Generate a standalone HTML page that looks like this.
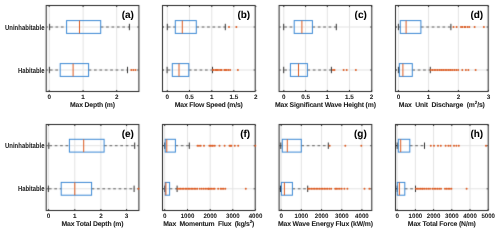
<!DOCTYPE html><html><head><meta charset="utf-8"><style>html,body{margin:0;padding:0;background:#fff;width:500px;height:233px;overflow:hidden}svg{display:block;will-change:transform}text{text-rendering:geometricPrecision;stroke-width:0.05px;font-family:"Liberation Sans",sans-serif;font-weight:bold;stroke:currentColor;white-space:pre}</style></head><body>
<svg width="500" height="233" viewBox="0 0 500 233"><defs><filter id="sf" x="0" y="0" width="500" height="233" filterUnits="userSpaceOnUse" color-interpolation-filters="sRGB"><feConvolveMatrix order="3" kernelMatrix="0.01 0.08 0.01 0.08 0.64 0.08 0.01 0.08 0.01" edgeMode="duplicate"/></filter></defs><rect width="500" height="233" fill="#fff"/><g filter="url(#sf)"><rect width="500" height="233" fill="#fff"/>
<g><line x1="49.2" y1="5.5" x2="49.2" y2="91.5" stroke="#e3e3e3"/><line x1="83.1" y1="5.5" x2="83.1" y2="91.5" stroke="#e3e3e3"/><line x1="116.7" y1="5.5" x2="116.7" y2="91.5" stroke="#e3e3e3"/><line x1="46.2" y1="27" x2="138.9" y2="27" stroke="#e3e3e3"/><line x1="46.2" y1="70" x2="138.9" y2="70" stroke="#e3e3e3"/><rect x="46.2" y="5.5" width="92.7" height="86" fill="none" stroke="#262626"/><line x1="49.2" y1="6.0" x2="49.2" y2="7.0" stroke="#262626"/><line x1="49.2" y1="91.0" x2="49.2" y2="90.0" stroke="#262626"/><line x1="83.1" y1="6.0" x2="83.1" y2="7.0" stroke="#262626"/><line x1="83.1" y1="91.0" x2="83.1" y2="90.0" stroke="#262626"/><line x1="116.7" y1="6.0" x2="116.7" y2="7.0" stroke="#262626"/><line x1="116.7" y1="91.0" x2="116.7" y2="90.0" stroke="#262626"/><line x1="46.7" y1="27" x2="47.7" y2="27" stroke="#262626"/><line x1="138.4" y1="27" x2="137.4" y2="27" stroke="#262626"/><line x1="46.7" y1="70" x2="47.7" y2="70" stroke="#262626"/><line x1="138.4" y1="70" x2="137.4" y2="70" stroke="#262626"/><line x1="50.1" y1="27" x2="66.6" y2="27" stroke="#606060" stroke-dasharray="2.7,2.7"/><line x1="100.7" y1="27" x2="129.4" y2="27" stroke="#606060" stroke-dasharray="2.7,2.7"/><line x1="49.6" y1="23.8" x2="49.6" y2="30.2" stroke="#333333"/><line x1="129.4" y1="23.8" x2="129.4" y2="30.2" stroke="#333333"/><rect x="66.6" y="20.6" width="34.1" height="12.8" fill="none" stroke="#3a88d4"/><line x1="79.5" y1="20.6" x2="79.5" y2="33.4" stroke="#dc5a20"/><line x1="49.9" y1="70" x2="60.2" y2="70" stroke="#606060" stroke-dasharray="2.7,2.7"/><line x1="88.6" y1="70" x2="127.5" y2="70" stroke="#606060" stroke-dasharray="2.7,2.7"/><line x1="49.4" y1="66.8" x2="49.4" y2="73.2" stroke="#333333"/><line x1="127.5" y1="66.8" x2="127.5" y2="73.2" stroke="#333333"/><rect x="60.2" y="63.6" width="28.4" height="12.8" fill="none" stroke="#3a88d4"/><line x1="73.1" y1="63.6" x2="73.1" y2="76.4" stroke="#dc5a20"/><circle cx="131.3" cy="70" r="1" fill="#dc5a20"/><circle cx="133.4" cy="70" r="1" fill="#dc5a20"/><circle cx="135.5" cy="70" r="1" fill="#dc5a20"/></g>
<g><line x1="167.3" y1="5.5" x2="167.3" y2="91.5" stroke="#e3e3e3"/><line x1="189.5" y1="5.5" x2="189.5" y2="91.5" stroke="#e3e3e3"/><line x1="211.8" y1="5.5" x2="211.8" y2="91.5" stroke="#e3e3e3"/><line x1="233.8" y1="5.5" x2="233.8" y2="91.5" stroke="#e3e3e3"/><line x1="162.5" y1="27" x2="255.2" y2="27" stroke="#e3e3e3"/><line x1="162.5" y1="70" x2="255.2" y2="70" stroke="#e3e3e3"/><rect x="162.5" y="5.5" width="92.7" height="86" fill="none" stroke="#262626"/><line x1="167.3" y1="6.0" x2="167.3" y2="7.0" stroke="#262626"/><line x1="167.3" y1="91.0" x2="167.3" y2="90.0" stroke="#262626"/><line x1="189.5" y1="6.0" x2="189.5" y2="7.0" stroke="#262626"/><line x1="189.5" y1="91.0" x2="189.5" y2="90.0" stroke="#262626"/><line x1="211.8" y1="6.0" x2="211.8" y2="7.0" stroke="#262626"/><line x1="211.8" y1="91.0" x2="211.8" y2="90.0" stroke="#262626"/><line x1="233.8" y1="6.0" x2="233.8" y2="7.0" stroke="#262626"/><line x1="233.8" y1="91.0" x2="233.8" y2="90.0" stroke="#262626"/><line x1="255.8" y1="6.0" x2="255.8" y2="7.0" stroke="#262626"/><line x1="255.8" y1="91.0" x2="255.8" y2="90.0" stroke="#262626"/><line x1="163" y1="27" x2="164" y2="27" stroke="#262626"/><line x1="254.7" y1="27" x2="253.7" y2="27" stroke="#262626"/><line x1="163" y1="70" x2="164" y2="70" stroke="#262626"/><line x1="254.7" y1="70" x2="253.7" y2="70" stroke="#262626"/><line x1="167.8" y1="27" x2="175.3" y2="27" stroke="#606060" stroke-dasharray="2.7,2.7"/><line x1="196.3" y1="27" x2="225.3" y2="27" stroke="#606060" stroke-dasharray="2.7,2.7"/><line x1="167.3" y1="23.8" x2="167.3" y2="30.2" stroke="#333333"/><line x1="225.3" y1="23.8" x2="225.3" y2="30.2" stroke="#333333"/><rect x="175.3" y="20.6" width="21" height="12.8" fill="none" stroke="#3a88d4"/><line x1="182.3" y1="20.6" x2="182.3" y2="33.4" stroke="#dc5a20"/><circle cx="229" cy="27" r="1" fill="#dc5a20"/><circle cx="236.4" cy="27" r="1" fill="#dc5a20"/><line x1="167.6" y1="70" x2="172.3" y2="70" stroke="#606060" stroke-dasharray="2.7,2.7"/><line x1="188.8" y1="70" x2="212.5" y2="70" stroke="#606060" stroke-dasharray="2.7,2.7"/><line x1="167.1" y1="66.8" x2="167.1" y2="73.2" stroke="#333333"/><line x1="212.5" y1="66.8" x2="212.5" y2="73.2" stroke="#333333"/><rect x="172.3" y="63.6" width="16.5" height="12.8" fill="none" stroke="#3a88d4"/><line x1="179" y1="63.6" x2="179" y2="76.4" stroke="#dc5a20"/><circle cx="212.8" cy="70" r="1" fill="#dc5a20"/><circle cx="213.8" cy="70" r="1" fill="#dc5a20"/><circle cx="215.5" cy="70" r="1" fill="#dc5a20"/><circle cx="216.5" cy="70" r="1" fill="#dc5a20"/><circle cx="217.5" cy="70" r="1" fill="#dc5a20"/><circle cx="219" cy="70" r="1" fill="#dc5a20"/><circle cx="220.8" cy="70" r="1" fill="#dc5a20"/><circle cx="221.6" cy="70" r="1" fill="#dc5a20"/><circle cx="224.3" cy="70" r="1" fill="#dc5a20"/><circle cx="225.3" cy="70" r="1" fill="#dc5a20"/><circle cx="226.7" cy="70" r="1" fill="#dc5a20"/><circle cx="228.4" cy="70" r="1" fill="#dc5a20"/><circle cx="230.1" cy="70" r="1" fill="#dc5a20"/><circle cx="237.9" cy="70" r="1" fill="#dc5a20"/></g>
<g><line x1="283.8" y1="5.5" x2="283.8" y2="91.5" stroke="#e3e3e3"/><line x1="305.6" y1="5.5" x2="305.6" y2="91.5" stroke="#e3e3e3"/><line x1="327.3" y1="5.5" x2="327.3" y2="91.5" stroke="#e3e3e3"/><line x1="349.5" y1="5.5" x2="349.5" y2="91.5" stroke="#e3e3e3"/><line x1="279.1" y1="27" x2="371.8" y2="27" stroke="#e3e3e3"/><line x1="279.1" y1="70" x2="371.8" y2="70" stroke="#e3e3e3"/><rect x="279.1" y="5.5" width="92.7" height="86" fill="none" stroke="#262626"/><line x1="283.8" y1="6.0" x2="283.8" y2="7.0" stroke="#262626"/><line x1="283.8" y1="91.0" x2="283.8" y2="90.0" stroke="#262626"/><line x1="305.6" y1="6.0" x2="305.6" y2="7.0" stroke="#262626"/><line x1="305.6" y1="91.0" x2="305.6" y2="90.0" stroke="#262626"/><line x1="327.3" y1="6.0" x2="327.3" y2="7.0" stroke="#262626"/><line x1="327.3" y1="91.0" x2="327.3" y2="90.0" stroke="#262626"/><line x1="349.5" y1="6.0" x2="349.5" y2="7.0" stroke="#262626"/><line x1="349.5" y1="91.0" x2="349.5" y2="90.0" stroke="#262626"/><line x1="371.6" y1="6.0" x2="371.6" y2="7.0" stroke="#262626"/><line x1="371.6" y1="91.0" x2="371.6" y2="90.0" stroke="#262626"/><line x1="279.6" y1="27" x2="280.6" y2="27" stroke="#262626"/><line x1="371.3" y1="27" x2="370.3" y2="27" stroke="#262626"/><line x1="279.6" y1="70" x2="280.6" y2="70" stroke="#262626"/><line x1="371.3" y1="70" x2="370.3" y2="70" stroke="#262626"/><line x1="284.2" y1="27" x2="294.2" y2="27" stroke="#606060" stroke-dasharray="2.7,2.7"/><line x1="312.4" y1="27" x2="336.3" y2="27" stroke="#606060" stroke-dasharray="2.7,2.7"/><line x1="283.7" y1="23.8" x2="283.7" y2="30.2" stroke="#333333"/><line x1="336.3" y1="23.8" x2="336.3" y2="30.2" stroke="#333333"/><rect x="294.2" y="20.6" width="18.2" height="12.8" fill="none" stroke="#3a88d4"/><line x1="301.9" y1="20.6" x2="301.9" y2="33.4" stroke="#dc5a20"/><line x1="284.2" y1="70" x2="290.4" y2="70" stroke="#606060" stroke-dasharray="2.7,2.7"/><line x1="307.4" y1="70" x2="331.4" y2="70" stroke="#606060" stroke-dasharray="2.7,2.7"/><line x1="283.7" y1="66.8" x2="283.7" y2="73.2" stroke="#333333"/><line x1="331.4" y1="66.8" x2="331.4" y2="73.2" stroke="#333333"/><rect x="290.4" y="63.6" width="17" height="12.8" fill="none" stroke="#3a88d4"/><line x1="298.5" y1="63.6" x2="298.5" y2="76.4" stroke="#dc5a20"/><circle cx="333" cy="70" r="1" fill="#dc5a20"/><circle cx="334.5" cy="70" r="1" fill="#dc5a20"/><circle cx="343.6" cy="70" r="1" fill="#dc5a20"/><circle cx="346.7" cy="70" r="1" fill="#dc5a20"/><circle cx="355.9" cy="70" r="1" fill="#dc5a20"/></g>
<g><line x1="398.4" y1="5.5" x2="398.4" y2="91.5" stroke="#e3e3e3"/><line x1="428.6" y1="5.5" x2="428.6" y2="91.5" stroke="#e3e3e3"/><line x1="458.4" y1="5.5" x2="458.4" y2="91.5" stroke="#e3e3e3"/><line x1="395.5" y1="27" x2="488.2" y2="27" stroke="#e3e3e3"/><line x1="395.5" y1="70" x2="488.2" y2="70" stroke="#e3e3e3"/><rect x="395.5" y="5.5" width="92.7" height="86" fill="none" stroke="#262626"/><line x1="398.4" y1="6.0" x2="398.4" y2="7.0" stroke="#262626"/><line x1="398.4" y1="91.0" x2="398.4" y2="90.0" stroke="#262626"/><line x1="428.6" y1="6.0" x2="428.6" y2="7.0" stroke="#262626"/><line x1="428.6" y1="91.0" x2="428.6" y2="90.0" stroke="#262626"/><line x1="458.4" y1="6.0" x2="458.4" y2="7.0" stroke="#262626"/><line x1="458.4" y1="91.0" x2="458.4" y2="90.0" stroke="#262626"/><line x1="488.4" y1="6.0" x2="488.4" y2="7.0" stroke="#262626"/><line x1="488.4" y1="91.0" x2="488.4" y2="90.0" stroke="#262626"/><line x1="396" y1="27" x2="397" y2="27" stroke="#262626"/><line x1="487.7" y1="27" x2="486.7" y2="27" stroke="#262626"/><line x1="396" y1="70" x2="397" y2="70" stroke="#262626"/><line x1="487.7" y1="70" x2="486.7" y2="70" stroke="#262626"/><line x1="398.9" y1="27" x2="400.3" y2="27" stroke="#606060" stroke-dasharray="2.7,2.7"/><line x1="420.9" y1="27" x2="450.9" y2="27" stroke="#606060" stroke-dasharray="2.7,2.7"/><line x1="398.4" y1="23.8" x2="398.4" y2="30.2" stroke="#333333"/><line x1="450.9" y1="23.8" x2="450.9" y2="30.2" stroke="#333333"/><rect x="400.3" y="20.6" width="20.6" height="12.8" fill="none" stroke="#3a88d4"/><line x1="406.1" y1="20.6" x2="406.1" y2="33.4" stroke="#dc5a20"/><circle cx="453.5" cy="27" r="1" fill="#dc5a20"/><circle cx="456.6" cy="27" r="1" fill="#dc5a20"/><circle cx="461" cy="27" r="1" fill="#dc5a20"/><circle cx="462.3" cy="27" r="1" fill="#dc5a20"/><circle cx="464.5" cy="27" r="1" fill="#dc5a20"/><circle cx="465.4" cy="27" r="1" fill="#dc5a20"/><circle cx="467.6" cy="27" r="1" fill="#dc5a20"/><circle cx="469.3" cy="27" r="1" fill="#dc5a20"/><circle cx="474.6" cy="27" r="1" fill="#dc5a20"/><circle cx="483.9" cy="27" r="1" fill="#dc5a20"/><line x1="398.9" y1="70" x2="399.4" y2="70" stroke="#606060" stroke-dasharray="2.7,2.7"/><line x1="412.3" y1="70" x2="430.3" y2="70" stroke="#606060" stroke-dasharray="2.7,2.7"/><line x1="398.4" y1="66.8" x2="398.4" y2="73.2" stroke="#333333"/><line x1="430.3" y1="66.8" x2="430.3" y2="73.2" stroke="#333333"/><rect x="399.4" y="63.6" width="12.9" height="12.8" fill="none" stroke="#3a88d4"/><line x1="402.9" y1="63.6" x2="402.9" y2="76.4" stroke="#dc5a20"/><circle cx="430.8" cy="70" r="1" fill="#dc5a20"/><circle cx="432.5" cy="70" r="1" fill="#dc5a20"/><circle cx="434.2" cy="70" r="1" fill="#dc5a20"/><circle cx="435.9" cy="70" r="1" fill="#dc5a20"/><circle cx="437.6" cy="70" r="1" fill="#dc5a20"/><circle cx="439.3" cy="70" r="1" fill="#dc5a20"/><circle cx="441" cy="70" r="1" fill="#dc5a20"/><circle cx="442" cy="70" r="1" fill="#dc5a20"/><circle cx="443.6" cy="70" r="1" fill="#dc5a20"/><circle cx="445.2" cy="70" r="1" fill="#dc5a20"/><circle cx="446.8" cy="70" r="1" fill="#dc5a20"/><circle cx="448.4" cy="70" r="1" fill="#dc5a20"/><circle cx="450" cy="70" r="1" fill="#dc5a20"/><circle cx="451" cy="70" r="1" fill="#dc5a20"/><circle cx="452.8" cy="70" r="1" fill="#dc5a20"/><circle cx="454.6" cy="70" r="1" fill="#dc5a20"/><circle cx="456.4" cy="70" r="1" fill="#dc5a20"/><circle cx="458.2" cy="70" r="1" fill="#dc5a20"/><circle cx="462.3" cy="70" r="1" fill="#dc5a20"/><circle cx="465.9" cy="70" r="1" fill="#dc5a20"/><circle cx="468.4" cy="70" r="1" fill="#dc5a20"/><circle cx="475.6" cy="70" r="1" fill="#dc5a20"/></g>
<g><line x1="48.6" y1="124.5" x2="48.6" y2="210.5" stroke="#e3e3e3"/><line x1="74.8" y1="124.5" x2="74.8" y2="210.5" stroke="#e3e3e3"/><line x1="100.9" y1="124.5" x2="100.9" y2="210.5" stroke="#e3e3e3"/><line x1="126.6" y1="124.5" x2="126.6" y2="210.5" stroke="#e3e3e3"/><line x1="46.2" y1="145.7" x2="138.9" y2="145.7" stroke="#e3e3e3"/><line x1="46.2" y1="188.8" x2="138.9" y2="188.8" stroke="#e3e3e3"/><rect x="46.2" y="124.5" width="92.7" height="86" fill="none" stroke="#262626"/><line x1="48.6" y1="125.0" x2="48.6" y2="126.0" stroke="#262626"/><line x1="48.6" y1="210.0" x2="48.6" y2="209.0" stroke="#262626"/><line x1="74.8" y1="125.0" x2="74.8" y2="126.0" stroke="#262626"/><line x1="74.8" y1="210.0" x2="74.8" y2="209.0" stroke="#262626"/><line x1="100.9" y1="125.0" x2="100.9" y2="126.0" stroke="#262626"/><line x1="100.9" y1="210.0" x2="100.9" y2="209.0" stroke="#262626"/><line x1="126.6" y1="125.0" x2="126.6" y2="126.0" stroke="#262626"/><line x1="126.6" y1="210.0" x2="126.6" y2="209.0" stroke="#262626"/><line x1="46.7" y1="145.7" x2="47.7" y2="145.7" stroke="#262626"/><line x1="138.4" y1="145.7" x2="137.4" y2="145.7" stroke="#262626"/><line x1="46.7" y1="188.8" x2="47.7" y2="188.8" stroke="#262626"/><line x1="138.4" y1="188.8" x2="137.4" y2="188.8" stroke="#262626"/><line x1="49.3" y1="145.7" x2="69.4" y2="145.7" stroke="#606060" stroke-dasharray="2.7,2.7"/><line x1="104.1" y1="145.7" x2="134.7" y2="145.7" stroke="#606060" stroke-dasharray="2.7,2.7"/><line x1="48.8" y1="142.5" x2="48.8" y2="148.9" stroke="#333333"/><line x1="134.7" y1="142.5" x2="134.7" y2="148.9" stroke="#333333"/><rect x="69.4" y="139.3" width="34.7" height="12.8" fill="none" stroke="#3a88d4"/><line x1="83.7" y1="139.3" x2="83.7" y2="152.1" stroke="#dc5a20"/><line x1="48.9" y1="188.8" x2="61.2" y2="188.8" stroke="#606060" stroke-dasharray="2.7,2.7"/><line x1="91.6" y1="188.8" x2="134.1" y2="188.8" stroke="#606060" stroke-dasharray="2.7,2.7"/><line x1="48.4" y1="185.6" x2="48.4" y2="192" stroke="#333333"/><line x1="134.1" y1="185.6" x2="134.1" y2="192" stroke="#333333"/><rect x="61.2" y="182.4" width="30.4" height="12.8" fill="none" stroke="#3a88d4"/><line x1="74.8" y1="182.4" x2="74.8" y2="195.2" stroke="#dc5a20"/><circle cx="138.5" cy="188.8" r="1" fill="#dc5a20"/></g>
<g><line x1="164.7" y1="124.5" x2="164.7" y2="210.5" stroke="#e3e3e3"/><line x1="187.5" y1="124.5" x2="187.5" y2="210.5" stroke="#e3e3e3"/><line x1="210.2" y1="124.5" x2="210.2" y2="210.5" stroke="#e3e3e3"/><line x1="232.8" y1="124.5" x2="232.8" y2="210.5" stroke="#e3e3e3"/><line x1="162.5" y1="145.7" x2="255.2" y2="145.7" stroke="#e3e3e3"/><line x1="162.5" y1="188.8" x2="255.2" y2="188.8" stroke="#e3e3e3"/><rect x="162.5" y="124.5" width="92.7" height="86" fill="none" stroke="#262626"/><line x1="164.7" y1="125.0" x2="164.7" y2="126.0" stroke="#262626"/><line x1="164.7" y1="210.0" x2="164.7" y2="209.0" stroke="#262626"/><line x1="187.5" y1="125.0" x2="187.5" y2="126.0" stroke="#262626"/><line x1="187.5" y1="210.0" x2="187.5" y2="209.0" stroke="#262626"/><line x1="210.2" y1="125.0" x2="210.2" y2="126.0" stroke="#262626"/><line x1="210.2" y1="210.0" x2="210.2" y2="209.0" stroke="#262626"/><line x1="232.8" y1="125.0" x2="232.8" y2="126.0" stroke="#262626"/><line x1="232.8" y1="210.0" x2="232.8" y2="209.0" stroke="#262626"/><line x1="255.5" y1="125.0" x2="255.5" y2="126.0" stroke="#262626"/><line x1="255.5" y1="210.0" x2="255.5" y2="209.0" stroke="#262626"/><line x1="163" y1="145.7" x2="164" y2="145.7" stroke="#262626"/><line x1="254.7" y1="145.7" x2="253.7" y2="145.7" stroke="#262626"/><line x1="163" y1="188.8" x2="164" y2="188.8" stroke="#262626"/><line x1="254.7" y1="188.8" x2="253.7" y2="188.8" stroke="#262626"/><line x1="165.2" y1="145.7" x2="165.2" y2="145.7" stroke="#606060" stroke-dasharray="2.7,2.7"/><line x1="175.4" y1="145.7" x2="189.3" y2="145.7" stroke="#606060" stroke-dasharray="2.7,2.7"/><line x1="164.7" y1="142.5" x2="164.7" y2="148.9" stroke="#333333"/><line x1="189.3" y1="142.5" x2="189.3" y2="148.9" stroke="#333333"/><rect x="165.2" y="139.3" width="10.2" height="12.8" fill="none" stroke="#3a88d4"/><line x1="166.8" y1="139.3" x2="166.8" y2="152.1" stroke="#dc5a20"/><circle cx="197.5" cy="145.7" r="1" fill="#dc5a20"/><circle cx="199" cy="145.7" r="1" fill="#dc5a20"/><circle cx="200.7" cy="145.7" r="1" fill="#dc5a20"/><circle cx="204" cy="145.7" r="1" fill="#dc5a20"/><circle cx="209.4" cy="145.7" r="1" fill="#dc5a20"/><circle cx="210.6" cy="145.7" r="1" fill="#dc5a20"/><circle cx="212" cy="145.7" r="1" fill="#dc5a20"/><circle cx="213" cy="145.7" r="1" fill="#dc5a20"/><circle cx="214.8" cy="145.7" r="1" fill="#dc5a20"/><circle cx="219.5" cy="145.7" r="1" fill="#dc5a20"/><circle cx="224.6" cy="145.7" r="1" fill="#dc5a20"/><circle cx="229.5" cy="145.7" r="1" fill="#dc5a20"/><circle cx="230.5" cy="145.7" r="1" fill="#dc5a20"/><circle cx="231.4" cy="145.7" r="1" fill="#dc5a20"/><circle cx="234.8" cy="145.7" r="1" fill="#dc5a20"/><circle cx="238.2" cy="145.7" r="1" fill="#dc5a20"/><circle cx="255.3" cy="145.7" r="1" fill="#dc5a20"/><line x1="165.2" y1="188.8" x2="165.2" y2="188.8" stroke="#606060" stroke-dasharray="2.7,2.7"/><line x1="169.6" y1="188.8" x2="177.1" y2="188.8" stroke="#606060" stroke-dasharray="2.7,2.7"/><line x1="164.7" y1="185.6" x2="164.7" y2="192" stroke="#333333"/><line x1="177.1" y1="185.6" x2="177.1" y2="192" stroke="#333333"/><rect x="165.2" y="182.4" width="4.4" height="12.8" fill="none" stroke="#3a88d4"/><line x1="165.9" y1="182.4" x2="165.9" y2="195.2" stroke="#dc5a20"/><circle cx="177.6" cy="188.8" r="1" fill="#dc5a20"/><circle cx="179.1" cy="188.8" r="1" fill="#dc5a20"/><circle cx="180.6" cy="188.8" r="1" fill="#dc5a20"/><circle cx="182.1" cy="188.8" r="1" fill="#dc5a20"/><circle cx="183.6" cy="188.8" r="1" fill="#dc5a20"/><circle cx="185.3" cy="188.8" r="1" fill="#dc5a20"/><circle cx="186.8" cy="188.8" r="1" fill="#dc5a20"/><circle cx="188.3" cy="188.8" r="1" fill="#dc5a20"/><circle cx="189.8" cy="188.8" r="1" fill="#dc5a20"/><circle cx="191.3" cy="188.8" r="1" fill="#dc5a20"/><circle cx="192.8" cy="188.8" r="1" fill="#dc5a20"/><circle cx="194.3" cy="188.8" r="1" fill="#dc5a20"/><circle cx="195.8" cy="188.8" r="1" fill="#dc5a20"/><circle cx="197.3" cy="188.8" r="1" fill="#dc5a20"/><circle cx="199.8" cy="188.8" r="1" fill="#dc5a20"/><circle cx="201.6" cy="188.8" r="1" fill="#dc5a20"/><circle cx="203.4" cy="188.8" r="1" fill="#dc5a20"/><circle cx="205.2" cy="188.8" r="1" fill="#dc5a20"/><circle cx="207" cy="188.8" r="1" fill="#dc5a20"/><circle cx="208.8" cy="188.8" r="1" fill="#dc5a20"/><circle cx="208.6" cy="188.8" r="1" fill="#dc5a20"/><circle cx="210.1" cy="188.8" r="1" fill="#dc5a20"/><circle cx="211.6" cy="188.8" r="1" fill="#dc5a20"/><circle cx="213.1" cy="188.8" r="1" fill="#dc5a20"/><circle cx="214.6" cy="188.8" r="1" fill="#dc5a20"/><circle cx="218.1" cy="188.8" r="1" fill="#dc5a20"/><circle cx="220.6" cy="188.8" r="1" fill="#dc5a20"/><circle cx="222" cy="188.8" r="1" fill="#dc5a20"/><circle cx="223.5" cy="188.8" r="1" fill="#dc5a20"/><circle cx="225.3" cy="188.8" r="1" fill="#dc5a20"/><circle cx="245.8" cy="188.8" r="1" fill="#dc5a20"/></g>
<g><line x1="281.2" y1="124.5" x2="281.2" y2="210.5" stroke="#e3e3e3"/><line x1="301.3" y1="124.5" x2="301.3" y2="210.5" stroke="#e3e3e3"/><line x1="321.6" y1="124.5" x2="321.6" y2="210.5" stroke="#e3e3e3"/><line x1="341.8" y1="124.5" x2="341.8" y2="210.5" stroke="#e3e3e3"/><line x1="361.9" y1="124.5" x2="361.9" y2="210.5" stroke="#e3e3e3"/><line x1="279.1" y1="145.7" x2="371.8" y2="145.7" stroke="#e3e3e3"/><line x1="279.1" y1="188.8" x2="371.8" y2="188.8" stroke="#e3e3e3"/><rect x="279.1" y="124.5" width="92.7" height="86" fill="none" stroke="#262626"/><line x1="281.2" y1="125.0" x2="281.2" y2="126.0" stroke="#262626"/><line x1="281.2" y1="210.0" x2="281.2" y2="209.0" stroke="#262626"/><line x1="301.3" y1="125.0" x2="301.3" y2="126.0" stroke="#262626"/><line x1="301.3" y1="210.0" x2="301.3" y2="209.0" stroke="#262626"/><line x1="321.6" y1="125.0" x2="321.6" y2="126.0" stroke="#262626"/><line x1="321.6" y1="210.0" x2="321.6" y2="209.0" stroke="#262626"/><line x1="341.8" y1="125.0" x2="341.8" y2="126.0" stroke="#262626"/><line x1="341.8" y1="210.0" x2="341.8" y2="209.0" stroke="#262626"/><line x1="361.9" y1="125.0" x2="361.9" y2="126.0" stroke="#262626"/><line x1="361.9" y1="210.0" x2="361.9" y2="209.0" stroke="#262626"/><line x1="279.6" y1="145.7" x2="280.6" y2="145.7" stroke="#262626"/><line x1="371.3" y1="145.7" x2="370.3" y2="145.7" stroke="#262626"/><line x1="279.6" y1="188.8" x2="280.6" y2="188.8" stroke="#262626"/><line x1="371.3" y1="188.8" x2="370.3" y2="188.8" stroke="#262626"/><line x1="281.3" y1="145.7" x2="282.3" y2="145.7" stroke="#606060" stroke-dasharray="2.7,2.7"/><line x1="301.3" y1="145.7" x2="328.3" y2="145.7" stroke="#606060" stroke-dasharray="2.7,2.7"/><line x1="280.8" y1="142.5" x2="280.8" y2="148.9" stroke="#333333"/><line x1="328.3" y1="142.5" x2="328.3" y2="148.9" stroke="#333333"/><rect x="282.3" y="139.3" width="19" height="12.8" fill="none" stroke="#3a88d4"/><line x1="287.3" y1="139.3" x2="287.3" y2="152.1" stroke="#dc5a20"/><circle cx="329.7" cy="145.7" r="1" fill="#dc5a20"/><circle cx="345.3" cy="145.7" r="1" fill="#dc5a20"/><circle cx="361.3" cy="145.7" r="1" fill="#dc5a20"/><line x1="281" y1="188.8" x2="281.4" y2="188.8" stroke="#606060" stroke-dasharray="2.7,2.7"/><line x1="292.4" y1="188.8" x2="307.7" y2="188.8" stroke="#606060" stroke-dasharray="2.7,2.7"/><line x1="280.5" y1="185.6" x2="280.5" y2="192" stroke="#333333"/><line x1="307.7" y1="185.6" x2="307.7" y2="192" stroke="#333333"/><rect x="281.4" y="182.4" width="11" height="12.8" fill="none" stroke="#3a88d4"/><line x1="284.4" y1="182.4" x2="284.4" y2="195.2" stroke="#dc5a20"/><circle cx="308.2" cy="188.8" r="1" fill="#dc5a20"/><circle cx="309.82" cy="188.8" r="1" fill="#dc5a20"/><circle cx="311.43" cy="188.8" r="1" fill="#dc5a20"/><circle cx="313.05" cy="188.8" r="1" fill="#dc5a20"/><circle cx="314.67" cy="188.8" r="1" fill="#dc5a20"/><circle cx="316.28" cy="188.8" r="1" fill="#dc5a20"/><circle cx="317.9" cy="188.8" r="1" fill="#dc5a20"/><circle cx="319.52" cy="188.8" r="1" fill="#dc5a20"/><circle cx="321.13" cy="188.8" r="1" fill="#dc5a20"/><circle cx="322.75" cy="188.8" r="1" fill="#dc5a20"/><circle cx="324.37" cy="188.8" r="1" fill="#dc5a20"/><circle cx="325.98" cy="188.8" r="1" fill="#dc5a20"/><circle cx="327.6" cy="188.8" r="1" fill="#dc5a20"/><circle cx="329.5" cy="188.8" r="1" fill="#dc5a20"/><circle cx="331.2" cy="188.8" r="1" fill="#dc5a20"/><circle cx="335.2" cy="188.8" r="1" fill="#dc5a20"/><circle cx="336.4" cy="188.8" r="1" fill="#dc5a20"/><circle cx="338" cy="188.8" r="1" fill="#dc5a20"/><circle cx="339.8" cy="188.8" r="1" fill="#dc5a20"/><circle cx="341.7" cy="188.8" r="1" fill="#dc5a20"/><circle cx="344.4" cy="188.8" r="1" fill="#dc5a20"/><circle cx="347.4" cy="188.8" r="1" fill="#dc5a20"/><circle cx="364.5" cy="188.8" r="1" fill="#dc5a20"/><circle cx="369.4" cy="188.8" r="1" fill="#dc5a20"/></g>
<g><line x1="397.2" y1="124.5" x2="397.2" y2="210.5" stroke="#e3e3e3"/><line x1="415.4" y1="124.5" x2="415.4" y2="210.5" stroke="#e3e3e3"/><line x1="433.6" y1="124.5" x2="433.6" y2="210.5" stroke="#e3e3e3"/><line x1="451.8" y1="124.5" x2="451.8" y2="210.5" stroke="#e3e3e3"/><line x1="470" y1="124.5" x2="470" y2="210.5" stroke="#e3e3e3"/><line x1="395.5" y1="145.7" x2="488.2" y2="145.7" stroke="#e3e3e3"/><line x1="395.5" y1="188.8" x2="488.2" y2="188.8" stroke="#e3e3e3"/><rect x="395.5" y="124.5" width="92.7" height="86" fill="none" stroke="#262626"/><line x1="397.2" y1="125.0" x2="397.2" y2="126.0" stroke="#262626"/><line x1="397.2" y1="210.0" x2="397.2" y2="209.0" stroke="#262626"/><line x1="415.4" y1="125.0" x2="415.4" y2="126.0" stroke="#262626"/><line x1="415.4" y1="210.0" x2="415.4" y2="209.0" stroke="#262626"/><line x1="433.6" y1="125.0" x2="433.6" y2="126.0" stroke="#262626"/><line x1="433.6" y1="210.0" x2="433.6" y2="209.0" stroke="#262626"/><line x1="451.8" y1="125.0" x2="451.8" y2="126.0" stroke="#262626"/><line x1="451.8" y1="210.0" x2="451.8" y2="209.0" stroke="#262626"/><line x1="470" y1="125.0" x2="470" y2="126.0" stroke="#262626"/><line x1="470" y1="210.0" x2="470" y2="209.0" stroke="#262626"/><line x1="488.2" y1="125.0" x2="488.2" y2="126.0" stroke="#262626"/><line x1="488.2" y1="210.0" x2="488.2" y2="209.0" stroke="#262626"/><line x1="396" y1="145.7" x2="397" y2="145.7" stroke="#262626"/><line x1="487.7" y1="145.7" x2="486.7" y2="145.7" stroke="#262626"/><line x1="396" y1="188.8" x2="397" y2="188.8" stroke="#262626"/><line x1="487.7" y1="188.8" x2="486.7" y2="188.8" stroke="#262626"/><line x1="397.7" y1="145.7" x2="398.3" y2="145.7" stroke="#606060" stroke-dasharray="2.7,2.7"/><line x1="409.8" y1="145.7" x2="424.5" y2="145.7" stroke="#606060" stroke-dasharray="2.7,2.7"/><line x1="397.2" y1="142.5" x2="397.2" y2="148.9" stroke="#333333"/><line x1="424.5" y1="142.5" x2="424.5" y2="148.9" stroke="#333333"/><rect x="398.3" y="139.3" width="11.5" height="12.8" fill="none" stroke="#3a88d4"/><line x1="400.7" y1="139.3" x2="400.7" y2="152.1" stroke="#dc5a20"/><circle cx="430.8" cy="145.7" r="1" fill="#dc5a20"/><circle cx="434" cy="145.7" r="1" fill="#dc5a20"/><circle cx="438" cy="145.7" r="1" fill="#dc5a20"/><circle cx="440.8" cy="145.7" r="1" fill="#dc5a20"/><circle cx="445.6" cy="145.7" r="1" fill="#dc5a20"/><circle cx="448.4" cy="145.7" r="1" fill="#dc5a20"/><circle cx="450.4" cy="145.7" r="1" fill="#dc5a20"/><circle cx="454" cy="145.7" r="1" fill="#dc5a20"/><circle cx="456.4" cy="145.7" r="1" fill="#dc5a20"/><circle cx="458.8" cy="145.7" r="1" fill="#dc5a20"/><circle cx="486" cy="145.7" r="1" fill="#dc5a20"/><line x1="397.7" y1="188.8" x2="397.3" y2="188.8" stroke="#606060" stroke-dasharray="2.7,2.7"/><line x1="404.8" y1="188.8" x2="415.5" y2="188.8" stroke="#606060" stroke-dasharray="2.7,2.7"/><line x1="397.2" y1="185.6" x2="397.2" y2="192" stroke="#333333"/><line x1="415.5" y1="185.6" x2="415.5" y2="192" stroke="#333333"/><rect x="397.3" y="182.4" width="7.5" height="12.8" fill="none" stroke="#3a88d4"/><line x1="399.4" y1="182.4" x2="399.4" y2="195.2" stroke="#dc5a20"/><circle cx="416" cy="188.8" r="1" fill="#dc5a20"/><circle cx="417.5" cy="188.8" r="1" fill="#dc5a20"/><circle cx="419" cy="188.8" r="1" fill="#dc5a20"/><circle cx="420.5" cy="188.8" r="1" fill="#dc5a20"/><circle cx="422" cy="188.8" r="1" fill="#dc5a20"/><circle cx="423" cy="188.8" r="1" fill="#dc5a20"/><circle cx="424.75" cy="188.8" r="1" fill="#dc5a20"/><circle cx="426.5" cy="188.8" r="1" fill="#dc5a20"/><circle cx="428.25" cy="188.8" r="1" fill="#dc5a20"/><circle cx="430" cy="188.8" r="1" fill="#dc5a20"/><circle cx="432.4" cy="188.8" r="1" fill="#dc5a20"/><circle cx="434.12" cy="188.8" r="1" fill="#dc5a20"/><circle cx="435.84" cy="188.8" r="1" fill="#dc5a20"/><circle cx="437.56" cy="188.8" r="1" fill="#dc5a20"/><circle cx="439.28" cy="188.8" r="1" fill="#dc5a20"/><circle cx="441" cy="188.8" r="1" fill="#dc5a20"/><circle cx="445" cy="188.8" r="1" fill="#dc5a20"/><circle cx="446.6" cy="188.8" r="1" fill="#dc5a20"/><circle cx="448.2" cy="188.8" r="1" fill="#dc5a20"/><circle cx="449.8" cy="188.8" r="1" fill="#dc5a20"/><circle cx="451.4" cy="188.8" r="1" fill="#dc5a20"/><circle cx="466.6" cy="188.8" r="1" fill="#dc5a20"/></g>
</g><g><text x="49.2" y="99.1" font-size="6.3" text-anchor="middle" fill="#262626" color="#262626">0</text><text x="83.1" y="99.1" font-size="6.3" text-anchor="middle" fill="#262626" color="#262626">1</text><text x="116.7" y="99.1" font-size="6.3" text-anchor="middle" fill="#262626" color="#262626">2</text><text x="92.55" y="107" font-size="6.85" text-anchor="middle" fill="#1a1a1a" color="#1a1a1a" textLength="45" lengthAdjust="spacing">Max Depth (m)</text><text x="133.9" y="18" font-size="10" text-anchor="end" fill="#000" color="#000">(a)</text><text x="44.5" y="29.6" font-size="7.4" text-anchor="end" fill="#262626" color="#262626" style="stroke-width:0.05px" textLength="39.5" lengthAdjust="spacingAndGlyphs">Uninhabitable</text><text x="44.5" y="72.6" font-size="7.4" text-anchor="end" fill="#262626" color="#262626" style="stroke-width:0.05px" textLength="26.5" lengthAdjust="spacingAndGlyphs">Habitable</text><text x="167.3" y="99.1" font-size="6.3" text-anchor="middle" fill="#262626" color="#262626">0</text><text x="189.5" y="99.1" font-size="6.3" text-anchor="middle" fill="#262626" color="#262626">0.5</text><text x="211.8" y="99.1" font-size="6.3" text-anchor="middle" fill="#262626" color="#262626">1</text><text x="233.8" y="99.1" font-size="6.3" text-anchor="middle" fill="#262626" color="#262626">1.5</text><text x="255.8" y="99.1" font-size="6.3" text-anchor="middle" fill="#262626" color="#262626">2</text><text x="208.85" y="107" font-size="6.85" text-anchor="middle" fill="#1a1a1a" color="#1a1a1a" textLength="68" lengthAdjust="spacing">Max Flow Speed (m/s)</text><text x="250.2" y="18" font-size="10" text-anchor="end" fill="#000" color="#000">(b)</text><text x="283.8" y="99.1" font-size="6.3" text-anchor="middle" fill="#262626" color="#262626">0</text><text x="305.6" y="99.1" font-size="6.3" text-anchor="middle" fill="#262626" color="#262626">0.5</text><text x="327.3" y="99.1" font-size="6.3" text-anchor="middle" fill="#262626" color="#262626">1</text><text x="349.5" y="99.1" font-size="6.3" text-anchor="middle" fill="#262626" color="#262626">1.5</text><text x="371.6" y="99.1" font-size="6.3" text-anchor="middle" fill="#262626" color="#262626">2</text><text x="325.45" y="107" font-size="6.85" text-anchor="middle" fill="#1a1a1a" color="#1a1a1a" textLength="101" lengthAdjust="spacing">Max Significant Wave Height (m)</text><text x="366.8" y="18" font-size="10" text-anchor="end" fill="#000" color="#000">(c)</text><text x="398.4" y="99.1" font-size="6.3" text-anchor="middle" fill="#262626" color="#262626">0</text><text x="428.6" y="99.1" font-size="6.3" text-anchor="middle" fill="#262626" color="#262626">1</text><text x="458.4" y="99.1" font-size="6.3" text-anchor="middle" fill="#262626" color="#262626">2</text><text x="488.4" y="99.1" font-size="6.3" text-anchor="middle" fill="#262626" color="#262626">3</text><text x="441.85" y="107" font-size="6.85" text-anchor="middle" fill="#1a1a1a" color="#1a1a1a" textLength="86" lengthAdjust="spacing">Max  Unit  Discharge  (m<tspan font-size="4.6" dy="-2.6">2</tspan><tspan dy="2.6">/s)</tspan></text><text x="483.2" y="18" font-size="10" text-anchor="end" fill="#000" color="#000">(d)</text><text x="48.6" y="218.1" font-size="6.3" text-anchor="middle" fill="#262626" color="#262626">0</text><text x="74.8" y="218.1" font-size="6.3" text-anchor="middle" fill="#262626" color="#262626">1</text><text x="100.9" y="218.1" font-size="6.3" text-anchor="middle" fill="#262626" color="#262626">2</text><text x="126.6" y="218.1" font-size="6.3" text-anchor="middle" fill="#262626" color="#262626">3</text><text x="92.55" y="226" font-size="6.85" text-anchor="middle" fill="#1a1a1a" color="#1a1a1a" textLength="62" lengthAdjust="spacing">Max Total Depth (m)</text><text x="133.9" y="137" font-size="10" text-anchor="end" fill="#000" color="#000">(e)</text><text x="44.5" y="148.3" font-size="7.4" text-anchor="end" fill="#262626" color="#262626" style="stroke-width:0.05px" textLength="39.5" lengthAdjust="spacingAndGlyphs">Uninhabitable</text><text x="44.5" y="191.4" font-size="7.4" text-anchor="end" fill="#262626" color="#262626" style="stroke-width:0.05px" textLength="26.5" lengthAdjust="spacingAndGlyphs">Habitable</text><text x="164.7" y="218.1" font-size="6.3" text-anchor="middle" fill="#262626" color="#262626">0</text><text x="187.5" y="218.1" font-size="6.3" text-anchor="middle" fill="#262626" color="#262626" textLength="13.6" lengthAdjust="spacingAndGlyphs">1000</text><text x="210.2" y="218.1" font-size="6.3" text-anchor="middle" fill="#262626" color="#262626" textLength="13.6" lengthAdjust="spacingAndGlyphs">2000</text><text x="232.8" y="218.1" font-size="6.3" text-anchor="middle" fill="#262626" color="#262626" textLength="13.6" lengthAdjust="spacingAndGlyphs">3000</text><text x="255.5" y="218.1" font-size="6.3" text-anchor="middle" fill="#262626" color="#262626" textLength="13.6" lengthAdjust="spacingAndGlyphs">4000</text><text x="208.85" y="226" font-size="6.85" text-anchor="middle" fill="#1a1a1a" color="#1a1a1a" textLength="91" lengthAdjust="spacing">Max  Momentum  Flux  (kg/s<tspan font-size="4.6" dy="-2.6">2</tspan><tspan dy="2.6">)</tspan></text><text x="250.2" y="137" font-size="10" text-anchor="end" fill="#000" color="#000">(f)</text><text x="281.2" y="218.1" font-size="6.3" text-anchor="middle" fill="#262626" color="#262626">0</text><text x="301.3" y="218.1" font-size="6.3" text-anchor="middle" fill="#262626" color="#262626" textLength="13.6" lengthAdjust="spacingAndGlyphs">1000</text><text x="321.6" y="218.1" font-size="6.3" text-anchor="middle" fill="#262626" color="#262626" textLength="13.6" lengthAdjust="spacingAndGlyphs">2000</text><text x="341.8" y="218.1" font-size="6.3" text-anchor="middle" fill="#262626" color="#262626" textLength="13.6" lengthAdjust="spacingAndGlyphs">3000</text><text x="361.9" y="218.1" font-size="6.3" text-anchor="middle" fill="#262626" color="#262626" textLength="13.6" lengthAdjust="spacingAndGlyphs">4000</text><text x="325.45" y="226" font-size="6.85" text-anchor="middle" fill="#1a1a1a" color="#1a1a1a" textLength="95" lengthAdjust="spacing">Max Wave Energy Flux (kW/m)</text><text x="366.8" y="137" font-size="10" text-anchor="end" fill="#000" color="#000">(g)</text><text x="397.2" y="218.1" font-size="6.3" text-anchor="middle" fill="#262626" color="#262626">0</text><text x="415.4" y="218.1" font-size="6.3" text-anchor="middle" fill="#262626" color="#262626" textLength="13.6" lengthAdjust="spacingAndGlyphs">1000</text><text x="433.6" y="218.1" font-size="6.3" text-anchor="middle" fill="#262626" color="#262626" textLength="13.6" lengthAdjust="spacingAndGlyphs">2000</text><text x="451.8" y="218.1" font-size="6.3" text-anchor="middle" fill="#262626" color="#262626" textLength="13.6" lengthAdjust="spacingAndGlyphs">3000</text><text x="470" y="218.1" font-size="6.3" text-anchor="middle" fill="#262626" color="#262626" textLength="13.6" lengthAdjust="spacingAndGlyphs">4000</text><text x="488.2" y="218.1" font-size="6.3" text-anchor="middle" fill="#262626" color="#262626" textLength="13.6" lengthAdjust="spacingAndGlyphs">5000</text><text x="441.85" y="226" font-size="6.85" text-anchor="middle" fill="#1a1a1a" color="#1a1a1a" textLength="68" lengthAdjust="spacing">Max Total Force (N/m)</text><text x="483.2" y="137" font-size="10" text-anchor="end" fill="#000" color="#000">(h)</text></g></svg></body></html>
